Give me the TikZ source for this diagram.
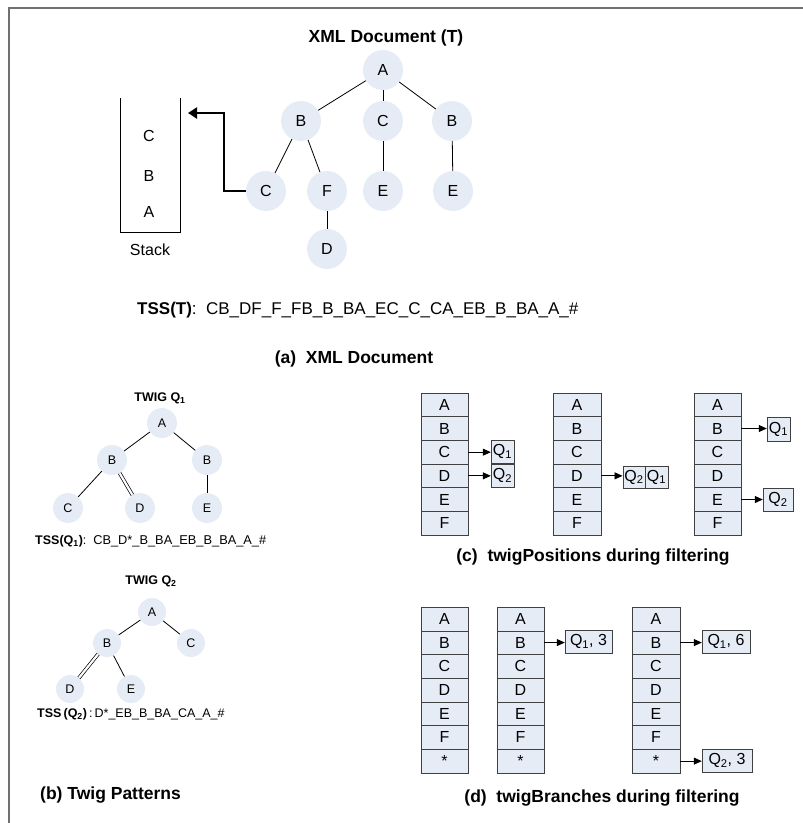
\documentclass[tikz,border=0pt]{standalone}
\usepackage{fontspec}
\setmainfont{Liberation Sans}
\usetikzlibrary{arrows.meta}
\definecolor{nodefill}{HTML}{E6ECF6}
\definecolor{cellfill}{HTML}{E6ECF6}
\definecolor{framegray}{HTML}{707070}
\definecolor{celldraw}{HTML}{404040}
\newcommand{\fsz}[1]{\fontsize{#1}{#1}\selectfont}
\begin{document}
\begin{tikzpicture}[x=1pt,y=-1pt,
  tn/.style={circle,fill=nodefill,minimum size=40pt,inner sep=0pt,font=\fsz{16}},
  qn/.style={circle,fill=nodefill,minimum size=30pt,inner sep=0pt,font=\fsz{12.5}},
  qnb/.style={qn,minimum size=28pt},
  cell/.style={rectangle,draw=celldraw,fill=cellfill,minimum width=47.5pt,minimum height=23.67pt,inner sep=0pt,font=\fsz{16}},
  qbox/.style={rectangle,draw=celldraw,fill=cellfill,minimum height=23pt,inner sep=1pt,font=\fsz{16}},
  edge/.style={draw=black,line width=0.8pt},
  dbl/.style={draw=black,double=white,double distance=2.2pt,line width=0.7pt},
  arr/.style={draw=black,line width=0.8pt,-{Triangle[length=8pt,width=7pt]}},
  lbl/.style={inner sep=0pt},
]
\useasboundingbox (0,0) rectangle (803,823);
% frame
\draw[framegray,line width=2pt] (8.5,823) -- (8.5,7.5) -- (803,7.5);

% ---------- (a) XML document ----------
\node[lbl,anchor=base,font=\fsz{17.5}\bfseries] (ttl) at (386,42) {XML Document (T)};
\node[tn] (a) at (383,70) {A};
\node[tn] (b1) at (301,121) {B};
\node[tn] (c1) at (383,121) {C};
\node[tn] (b2) at (452,121) {B};
\node[tn] (c2) at (266,191) {C};
\node[tn] (f) at (327,191) {F};
\node[tn] (e1) at (383,191) {E};
\node[tn] (e2) at (453,191) {E};
\node[tn] (d) at (327,249) {D};
\draw[edge] (a) -- (b1);
\draw[edge] (a) -- (c1);
\draw[edge] (a) -- (b2);
\draw[edge] (b1) -- (c2);
\draw[edge] (b1) -- (f);
\draw[edge] (c1) -- (e1);
\draw[edge] (b2) -- (e2);
\draw[edge] (f) -- (d);

% stack
\draw[black,line width=0.8pt] (120,98) -- (120,232) -- (180,232) -- (180,98);
\node[lbl,font=\fsz{16}] (sc) at (149,136) {C};
\node[lbl,font=\fsz{16}] (sb) at (149,176) {B};
\node[lbl,font=\fsz{16}] (sa) at (149,212) {A};
\node[lbl,anchor=base,font=\fsz{16}] (stk) at (150,255.5) {Stack};
\coordinate (stktop) at (188,113);
\draw[line width=2.6pt,-{Triangle[length=9pt,width=11pt]}] (c2.west) -- ++(-22,0) |- (stktop);

\node[lbl,anchor=base west,font=\fsz{17}] (tssT) at (137,314)
  {\textbf{TSS(T)}:\ \ CB\_DF\_F\_FB\_B\_BA\_EC\_C\_CA\_EB\_B\_BA\_A\_\#};
\node[lbl,anchor=base,font=\fsz{17.5}\bfseries] (capa) at (354,363.5) {(a)\ \ XML Document};

% ---------- (b) twig patterns ----------
\node[lbl,anchor=base,font=\fsz{12.5}\bfseries] (tq1) at (160,401.5) {TWIG Q\textsubscript{1}};
\node[qn] (qa) at (162,423) {A};
\node[qn] (qb1) at (112,460) {B};
\node[qn] (qb2) at (207,460) {B};
\node[qn] (qc) at (68,508) {C};
\node[qn] (qd) at (140,508) {D};
\node[qn] (qe) at (207,508) {E};
\draw[edge] (qa) -- (qb1);
\draw[edge] (qa) -- (qb2);
\draw[edge] (qb1) -- (qc);
\draw[dbl] (qb1) -- (qd);
\draw[edge] (qb2) -- (qe);
\node[lbl,anchor=base west,font=\fsz{12.5}] (tssq1) at (35,544.5)
  {\textbf{TSS(Q\textsubscript{1})}:\ \ {\fsz{12.8}CB\_D*\_B\_BA\_EB\_B\_BA\_A\_\#}};

\node[lbl,anchor=base,font=\fsz{12.5}\bfseries] (tq2) at (151,584.5) {TWIG Q\textsubscript{2}};
\node[qnb] (ra) at (152,612) {A};
\node[qnb] (rb) at (107,643) {B};
\node[qnb] (rc) at (191,643) {C};
\node[qnb] (rd) at (70,689) {D};
\node[qnb] (re) at (131,689) {E};
\draw[edge] (ra) -- (rb);
\draw[edge] (ra) -- (rc);
\draw[dbl] (rb) -- (rd);
\draw[edge] (rb) -- (re);
\node[lbl,anchor=base west,font=\fsz{12.5}] (tssq2) at (37,717.5)
  {\textbf{TSS\,(Q\textsubscript{2})}\,:\,D*\_EB\_B\_BA\_CA\_A\_\#};
\node[lbl,anchor=base west,font=\fsz{17.5}\bfseries] (capb) at (40,799.5) {(b) Twig Patterns};

% ---------- (c) twigPositions ----------
\foreach \x/\n in {444.5/p,577/q,717.5/r}{
  \foreach \l [count=\i] in {A,B,C,D,E,F}
    \node[cell] (\n\i) at (\x,{393+23.67*(\i-0.5)}) {\l};
}
\node[qbox,minimum width=23pt] (p1q1) at (502.5,451.5) {Q\textsubscript{1}};
\node[qbox,minimum width=23pt] (p1q2) at (502.5,475.5) {Q\textsubscript{2}};
\draw[arr] (p3.east) -- (p3.east -| p1q1.west);
\draw[arr] (p4.east) -- (p4.east -| p1q2.west);
\node[qbox,minimum width=22.5pt,minimum height=22pt] (p2q2) at (634,477) {Q\textsubscript{2}};
\node[qbox,minimum width=22.5pt,minimum height=22pt] (p2q1) at (656.5,477) {Q\textsubscript{1}};
\draw[arr] (q4.east) -- (q4.east -| p2q2.west);
\node[qbox,minimum width=23pt,minimum height=24pt] (p3q1) at (778.5,429) {Q\textsubscript{1}};
\node[qbox,minimum width=30pt] (p3q2) at (778,499.5) {Q\textsubscript{2}};
\draw[arr] (r2.east) -- (r2.east -| p3q1.west);
\draw[arr] (r5.east) -- (r5.east -| p3q2.west);
\node[lbl,anchor=base,font=\fsz{17.5}\bfseries] (capc) at (593,561.5) {(c)\ \ twigPositions during filtering};

% ---------- (d) twigBranches ----------
\foreach \x/\n in {444.5/s,520.5/t,656/u}{
  \foreach \l [count=\i] in {A,B,C,D,E,F,*}
    \node[cell,minimum height=23.71pt] (\n\i) at (\x,{607+23.71*(\i-0.5)}) {\l};
}
\node[qbox,minimum width=47pt] (t2b) at (588.5,641.5) {Q\textsubscript{1}, 3};
\draw[arr] (t2.east) -- (t2.east -| t2b.west);
\node[qbox,minimum width=48pt] (u2b) at (726,641.5) {Q\textsubscript{1}, 6};
\draw[arr] (u2.east) -- (u2.east -| u2b.west);
\node[qbox,minimum width=50pt] (u7b) at (727,760.5) {Q\textsubscript{2}, 3};
\draw[arr] (u7.east) -- (u7.east -| u7b.west);
\node[lbl,anchor=base,font=\fsz{17.5}\bfseries] (capd) at (602,802) {(d)\ \ twigBranches during filtering};
\end{tikzpicture}
\end{document}
